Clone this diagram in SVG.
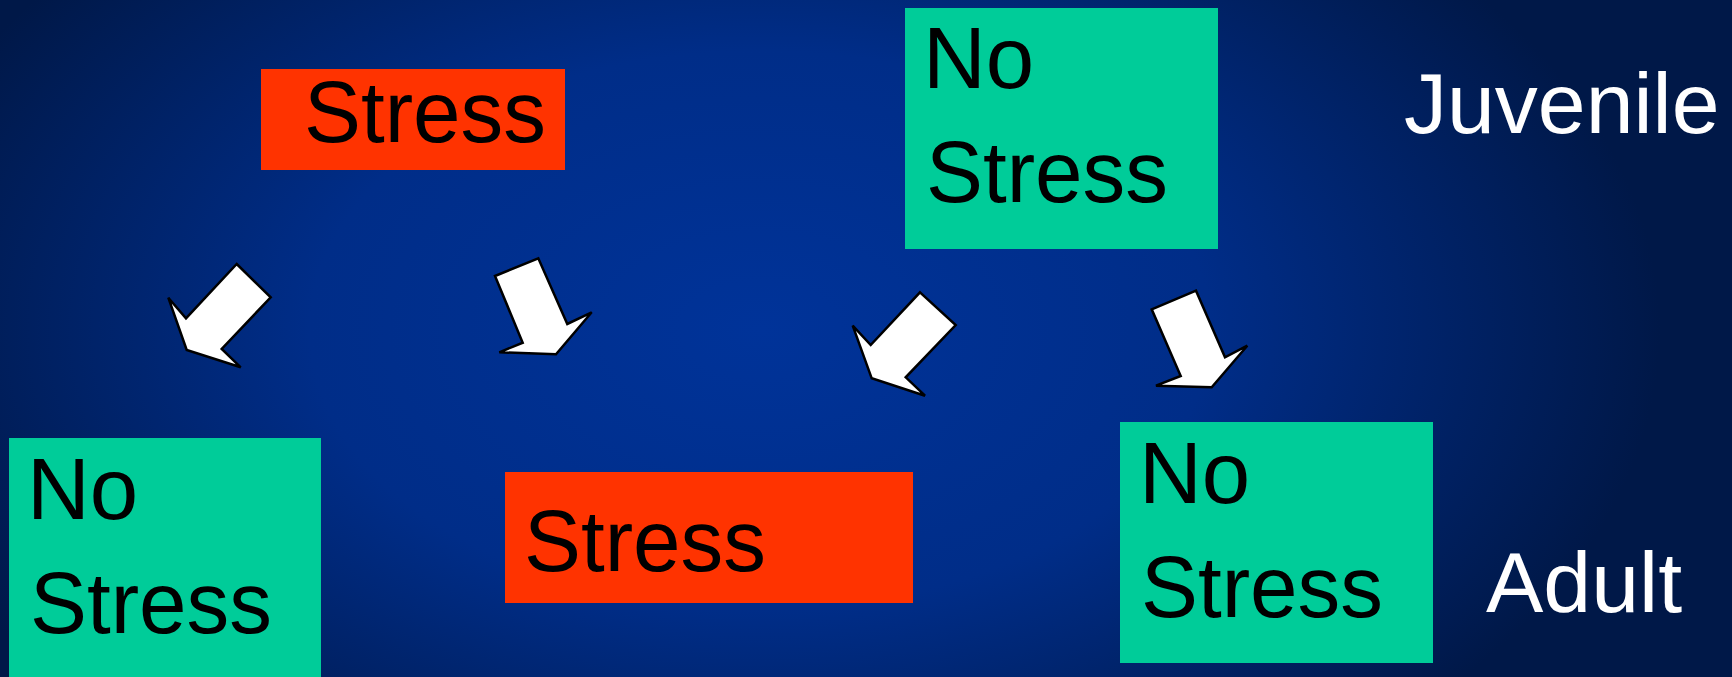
<svg xmlns="http://www.w3.org/2000/svg" width="1732" height="677" viewBox="0 0 1732 677">
<defs>
<radialGradient id="bg" gradientUnits="userSpaceOnUse" cx="760" cy="330" r="900" gradientTransform="translate(0,330) scale(1,0.62) translate(0,-330)">
<stop offset="0" stop-color="#003399"/>
<stop offset="0.5" stop-color="#002d88"/>
<stop offset="1" stop-color="#001848"/>
</radialGradient>
</defs>
<style>
.red{fill:#ff3300}
.green{fill:#00cc99}
.t{font-family:"Liberation Sans",Arial,sans-serif;font-size:87px;fill:#000}
.w{font-family:"Liberation Sans",Arial,sans-serif;font-size:86px;fill:#fff}
.arrow{fill:#fff;stroke:#000;stroke-width:2.5;stroke-linejoin:miter}
</style>
<rect width="1732" height="677" fill="url(#bg)"/>
<g id="juvenile-stress">
<rect class="red" x="261" y="69" width="304" height="101"/>
<text class="t" x="304" y="142" textLength="242" lengthAdjust="spacingAndGlyphs">Stress</text>
</g>
<g id="juvenile-nostress">
<rect class="green" x="905" y="8" width="313" height="241"/>
<text class="t" x="923" y="88">No</text>
<text class="t" x="926" y="202" textLength="242" lengthAdjust="spacingAndGlyphs">Stress</text>
</g>
<g id="adult-nostress-left">
<rect class="green" x="9" y="438" width="312" height="250"/>
<text class="t" x="27" y="519">No</text>
<text class="t" x="30" y="633" textLength="242" lengthAdjust="spacingAndGlyphs">Stress</text>
</g>
<g id="adult-stress">
<rect class="red" x="505" y="472" width="408" height="131"/>
<text class="t" x="524" y="571" textLength="242" lengthAdjust="spacingAndGlyphs">Stress</text>
</g>
<g id="adult-nostress-right">
<rect class="green" x="1120" y="422" width="313" height="241"/>
<text class="t" x="1139" y="503">No</text>
<text class="t" x="1141" y="617" textLength="242" lengthAdjust="spacingAndGlyphs">Stress</text>
</g>
<g id="label-juvenile">
<text class="w" x="1404" y="133">Juvenile</text>
</g>
<g id="label-adult">
<text class="w" x="1486" y="612">Adult</text>
</g>
<g id="connectors">
<polygon class="arrow" points="236.7,264 270.7,297.3 221.7,349 240.7,367.3 186.7,350 168.3,297.7 186,318.3"/>
<polygon class="arrow" points="495,276 538.3,258.3 567.3,324 591.7,312.3 556,354.3 499.3,352.3 522.7,342.7"/>
<polygon class="arrow" points="920,292.3 955.7,325 905.7,377.3 925,395.7 871.7,378.3 852.7,325.7 870.7,345"/>
<polygon class="arrow" points="1151.7,309.3 1196,290.7 1225,357.3 1247.3,345.7 1211.7,387.3 1156,385.7 1180.7,376"/>
</g>
</svg>
